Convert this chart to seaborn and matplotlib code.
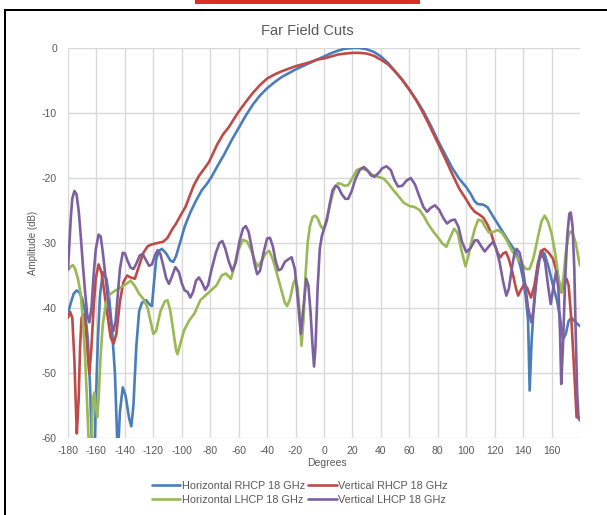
import pandas as pd
import seaborn as sns
import matplotlib.pyplot as plt
from matplotlib.patches import Rectangle

# Horizontal RHCP 18 GHz
deg_h_rhcp = [-180, -178, -176, -174, -172, -170, -168, -166, -164.5, -163, -161.5, -160.5, -159, -157.5,
              -155.5, -153, -151, -149, -147, -145, -143.5, -141.5, -139.5, -137, -135.5, -134, -132, -130,
              -128, -125, -122.5, -121, -119.5, -118, -116, -114, -111, -108, -106, -104, -101, -98, -94,
              -90, -86, -82, -79, -75, -70, -65, -60, -55, -50, -45, -40, -35, -30, -25, -20, -15, -10, -5,
              0, 5, 10, 15, 20, 25, 30, 35, 40, 45, 50, 55, 60, 65, 70, 75, 80, 85, 90, 95, 100, 103, 106,
              108, 112, 115, 118, 122, 126, 130, 135, 138, 140, 142, 143.5, 144.6, 146, 148, 150, 152.5,
              155, 158, 161, 164, 166, 168, 170, 172, 174, 177, 180]
amp_h_rhcp = [-40.8, -39.2, -37.8, -37.3, -37.6, -38.6, -40.5, -45, -52, -63, -63, -55, -45, -38,
              -34.5, -35.5, -38.5, -43.5, -50, -63, -56, -52.2, -53.5, -57, -58.2, -55, -46, -40.5,
              -39.2, -38.8, -39.5, -39.7, -36, -32.5, -31.2, -30.9, -31.6, -32.7, -32.9, -32, -29.8, -27.5, -25.3,
              -23.5, -21.9, -20.8, -19.8, -18.2, -16.3, -14.2, -12.3, -10.4, -8.7, -7.3, -6.2, -5.3, -4.5, -3.9,
              -3.3, -2.8, -2.3, -1.8,
              -1.3, -0.8, -0.4, -0.1, 0.0, 0.0, -0.2, -0.6, -1.3, -2.3, -3.6, -4.9, -6.4, -8.0, -9.8, -11.9,
              -14.2, -16.3, -18.4, -20.1, -21.4, -22.4, -23.6,
              -24.0, -24.1, -24.5, -25.6, -27, -28.4, -29.8, -31.4, -33.5, -35.5, -38.5, -42, -52.7,
              -45, -38, -34, -31.2, -31.6, -33.8, -36.5, -39, -41.5, -44.8, -44, -42, -41.5, -42.2, -42.8]

# Vertical RHCP 18 GHz
deg_v_rhcp = [-180, -178.5, -177, -175.5, -174.5, -173.8, -172.5, -171.5, -170.5, -169, -167.5, -166,
              -165, -163.5, -162, -160.5, -158.5, -156.5, -154.5, -152, -150, -148, -146, -143.5, -141,
              -138.5, -136, -133, -130, -127, -124, -121, -117, -113, -110, -107, -104, -101, -97.5, -94,
              -91.5, -88, -84, -81, -78, -75, -71, -67, -63, -60, -55, -50, -45, -40, -35, -30, -25, -20,
              -15, -10, -5, 0, 5, 10, 15, 20, 25, 30, 35, 40, 45, 50, 55, 60, 65, 70, 75, 80, 85, 90, 95,
              100, 103, 106, 109, 112, 115, 117.5, 120, 122, 124, 126, 128, 130, 132.5, 135, 136.5, 138.5,
              141, 143, 145.5, 148, 150.5, 153, 155, 158, 161, 163, 165, 167, 169, 170.5, 172, 174, 176,
              177.6, 180]
amp_v_rhcp = [-41.5, -40.6, -41.5, -48, -55, -59.3, -54, -46, -41.5, -41, -43, -47.5,
              -50.1, -46, -40, -35.5, -33.3, -34.5, -37.5, -41.5, -44.5, -45.5, -44, -39, -36,
              -35, -35.3, -35.5, -33.5, -31.5, -30.5, -30.2, -30, -29.8, -29.2, -28, -27, -25.8, -24.5, -22.5,
              -21.1, -19.7, -18.5, -17.6, -16.2, -14.8, -13.3, -12.2, -10.8, -9.8, -8.3, -6.9, -5.7, -4.7, -4.1,
              -3.6, -3.2, -2.8,
              -2.5, -2.2, -1.8, -1.6, -1.3, -1.0, -0.85, -0.75, -0.75, -0.85, -1.2, -1.8, -2.5, -3.6, -4.9,
              -6.4, -8.1, -10.1, -12.3, -14.6, -16.9, -19.3, -21.6,
              -23.3, -24.4, -25.2, -25.6, -26.1, -27.2, -28.5, -30.3, -31.5, -32.2, -31.6, -31.4, -32.5, -34.5,
              -37, -38.1, -37.2,
              -36.3, -37, -38.4, -36.5, -33, -31.2, -30.9, -31.5, -32.4, -34, -36.2, -37.6, -36.2, -35.5,
              -36.5, -42, -50,
              -56.8, -56.9]

# Horizontal LHCP 18 GHz
deg_h_lhcp = [-180, -178, -176.5, -175, -173, -171, -169.5, -168, -166.5, -165, -163.5, -162.5, -161.5,
              -160.5, -159.5, -158.5, -157, -155.5, -153.5, -151, -148, -145, -142, -139, -136, -133, -130,
              -127, -124, -121.5, -120, -118, -115, -112, -110, -108, -106, -104, -103, -101, -98.5, -95,
              -91, -87, -83, -79, -75.5, -72, -69, -65.5, -63.5, -61, -57, -54, -51, -48.5, -46.5, -44,
              -41, -38.5, -36, -33, -30, -27.5, -26, -24, -21.5, -20, -18.5, -17, -15.8, -14.5, -13, -11.5,
              -10, -8, -6.3, -4.5, -2.5, -1, 0.5, 2, 4, 6, 8, 10, 12, 14.5, 17, 20, 23, 26, 30, 34, 38, 42,
              45, 48.5, 52, 56, 60, 64, 67, 70, 73, 77, 80, 83, 86, 89, 91.5, 94, 96.5, 99.5, 101.5, 103.5,
              106, 108.5, 111, 113.5, 116, 119, 122, 125, 128, 131, 134, 137.5, 140, 142, 144.5, 147, 149,
              151, 153, 155.2, 157.5, 160, 162.5, 165, 167, 168.5, 170, 172, 173.5, 175, 177, 178.5, 180]
amp_h_lhcp = [-34.2, -33.6, -33.4, -34, -35.5, -38, -42, -47.5, -55, -63, -60.5, -54, -53,
              -55, -56.8, -54, -47, -42.5, -39.5, -38, -37.5, -37.1, -36.7, -36.3, -35.8, -36.6, -37.8,
              -38.6, -40, -42.5, -44, -43.5, -40.5, -39, -38.8, -40.5, -43.5, -46.5, -47.1, -45.5, -43.5, -42,
              -40.8, -38.8, -38, -37.2, -36.5, -35.0, -34.7, -35.5, -34, -31.5, -29.5, -29.8, -31.2, -32.8,
              -33.6, -32.8,
              -31.6, -31.2, -32.5, -34.8, -37.2, -39.2, -39.7, -38.7, -36.2, -35.5, -37, -41, -45.8, -42, -35,
              -30,
              -27.5, -26, -25.8, -26.2, -27.3, -27.8, -27.4, -26.2, -24.4, -22.5, -21.3, -20.8, -20.9, -21.2,
              -21.1, -20, -18.8, -18.5, -18.8, -19.5, -19.8, -20.1,
              -20.8, -21.8, -22.7, -23.8, -24.3, -24.5, -24.9, -25.8, -27, -28.3, -29.1, -30, -30.6, -29,
              -27.8, -28.5, -31, -33.6, -32, -30,
              -27.8, -26.4, -26.6, -27.6, -28.4, -28.3, -28, -28.4, -29.4, -30.7, -31.8, -32.7, -33.5, -34,
              -34, -32.5, -30.6,
              -28.5, -26.6, -25.8, -26.7, -28.5, -31.5, -35.5, -37.5, -35, -31.5, -28.8, -28.2, -28.6, -30,
              -31.8, -33.5]

# Vertical LHCP 18 GHz
deg_v_lhcp = [-180, -179, -178, -177, -175.5, -174, -172.5, -171, -169.5, -168, -166.5, -165, -163.5,
              -162, -160.5, -158.5, -157, -155.5, -153.5, -151.5, -149.5, -148, -146.5, -145, -143.5,
              -141.5, -140, -138, -136, -134, -132, -129.5, -127.5, -125.5, -123, -121, -119, -117, -115,
              -113, -111, -109, -107, -104.5, -102, -100, -98, -96, -94, -92, -90, -88, -86, -83.5, -81.5,
              -79, -76, -73.5, -71.5, -69.5, -67, -64.5, -62, -59.5, -57, -55, -53, -51, -49, -47, -45,
              -42.5, -40, -38, -36, -34, -32, -30, -27.5, -25, -22.8, -20.5, -18.5, -16.3, -14.5, -12.5,
              -11, -9.5, -8, -7, -6, -4.5, -3, -1.5, 0.5, 2, 4, 6, 8, 10, 12.5, 15, 17, 19.5, 22, 25, 28,
              30.5, 33, 35.5, 38.5, 41, 44, 47, 49.5, 52, 55, 58, 61, 64, 67, 70, 72.5, 75, 78, 81, 84,
              86.5, 89.5, 92, 94.5, 97, 100, 103, 106, 108, 110.5, 113, 116, 119, 121, 123.5, 126, 128.2,
              130, 132, 134, 135.5, 137.5, 139.5, 141.5, 143.5, 145.8, 147.5, 149.5, 151.5, 153.5, 155.5,
              157.5, 159.4, 161.3, 163.3, 164.8, 166, 166.8, 168, 169.5, 171, 172.5, 173.5, 174.8, 176,
              177, 178, 179, 180]
amp_v_lhcp = [-34, -30, -26, -23.2, -22, -22.5, -25, -29, -33.5, -37.5, -41, -42.2, -40,
              -35, -31, -28.7, -29, -31.5, -35.5, -39.5, -42.5, -43.5, -42, -38, -34,
              -31.5, -31.6, -32.8, -33.8, -34, -33.2, -31.9, -31.7, -32.5, -33.5, -33.3, -32, -31.1, -31.7,
              -33.5, -35.4, -36.3, -35.2, -33.7, -34.5, -36.2, -37.3, -37.5, -38.4, -37.5, -35.8, -35.3, -36,
              -37.2, -36.5,
              -34, -31.5, -30, -29.7, -30.8, -32.8, -34.3, -33, -29.8, -27.8, -27.4, -28.3, -30.5, -33, -34.8,
              -34.3,
              -31.5, -29.3, -29.2, -30.5, -32.8, -34.2, -34, -32.9, -32.5, -32.2, -34, -38.5, -44, -40, -35.5,
              -36.5, -40.5, -46, -49, -46, -37, -31, -28.9, -27.5, -26.5, -24, -21.9, -21.2, -21.4, -22.5,
              -23.2, -23.2, -22, -20.2, -18.8, -18.3,
              -18.8, -19.6, -19.8, -19.2, -18.5, -18.2, -18.8, -20.3, -21.3, -21.2, -20.4, -20.0, -21, -22.8,
              -24.5, -25.2, -24.6, -24.2, -24.9, -26.2,
              -27, -26.5, -26.4, -27.5, -29.8, -31.4, -30.8, -29.6, -29.6, -30.5, -31.3, -30.5, -29.8, -30.8,
              -33, -36, -38.1,
              -37, -34, -31.5, -30.9, -31.5, -33.5, -36.5, -40, -42.2, -40, -35.5, -32.5, -31.7, -33,
              -36.5, -39.4, -36.8, -34.3, -37, -44, -51.7, -46, -36, -29, -25.5, -25.3, -27.5, -34,
              -44, -53, -57, -57.3]

series_names = ["Horizontal RHCP 18 GHz", "Vertical RHCP 18 GHz",
                "Horizontal LHCP 18 GHz", "Vertical LHCP 18 GHz"]
series_colors = ["#4a7ebb", "#be4b48", "#98b954", "#7d60a0"]
x_ticks = list(range(-180, 180, 20))
y_ticks = list(range(-60, 1, 10))

frames = []
for name, d, a in zip(series_names,
                      [deg_h_rhcp, deg_v_rhcp, deg_h_lhcp, deg_v_lhcp],
                      [amp_h_rhcp, amp_v_rhcp, amp_h_lhcp, amp_v_lhcp]):
    frames.append(pd.DataFrame({"Degrees": d, "Amplitude": a, "Series": name}))
df = pd.concat(frames, ignore_index=True)

sns.set_theme(style="white")
plt.rcParams["font.family"] = ["Liberation Sans", "DejaVu Sans"]
plt.rcParams["axes.unicode_minus"] = False

fig = plt.figure(figsize=(6.07, 5.15), dpi=100)
ax = fig.add_axes([68 / 607, 1 - 438 / 515, 512 / 607, 390 / 515])

sns.lineplot(data=df, x="Degrees", y="Amplitude", hue="Series", hue_order=series_names,
             palette=dict(zip(series_names, series_colors)), estimator=None, sort=False,
             linewidth=1.9, ax=ax)

ax.set_xlim(-180, 180)
ax.set_ylim(-60, 0)
ax.set_xticks(x_ticks)
ax.set_yticks(y_ticks)
ax.grid(True, color="#d9d9d9", linewidth=1)
ax.set_axisbelow(True)
for s in ax.spines.values():
    s.set_visible(False)
ax.tick_params(axis="x", length=4, color="#d9d9d9", labelsize=7.5, labelcolor="#595959", pad=2)
ax.tick_params(axis="y", length=0, labelsize=7.5, labelcolor="#595959", pad=8)

ax.set_xlabel("Degrees", fontsize=7.5, color="#595959")
ax.set_ylabel("Amplitude (dB)", fontsize=7, color="#595959")
ax.xaxis.set_label_coords(0.505, -0.052)
ax.yaxis.set_label_coords(-0.058, 0.5)

fig.text(307 / 607, 1 - 31 / 515, "Far Field Cuts", ha="center", va="center",
         fontsize=10.5, color="#595959")

# legend: rows blue/red then green/purple
handles, labels = ax.get_legend_handles_labels()
ax.legend_.remove()
order = [0, 2, 1, 3]
fig.legend([handles[i] for i in order], [labels[i] for i in order], ncol=2, loc="center",
           bbox_to_anchor=(300 / 607, 1 - 493 / 515), frameon=False, fontsize=7.8,
           handlelength=2.6, handletextpad=0.15, columnspacing=0.3, labelspacing=0.4,
           labelcolor="#595959")

# screenshot frame
fig.add_artist(Rectangle((4 / 607, 1 - 11 / 515), 1, 2 / 515, transform=fig.transFigure,
                         color="black", lw=0))
fig.add_artist(Rectangle((4 / 607, 0), 2 / 607, 1 - 9 / 515, transform=fig.transFigure,
                         color="black", lw=0))
fig.add_artist(Rectangle((195 / 607, 1 - 4 / 515), 225 / 607, 4 / 515, transform=fig.transFigure,
                         color="#d93025", lw=0))

fig.savefig("out.png", dpi=100)
